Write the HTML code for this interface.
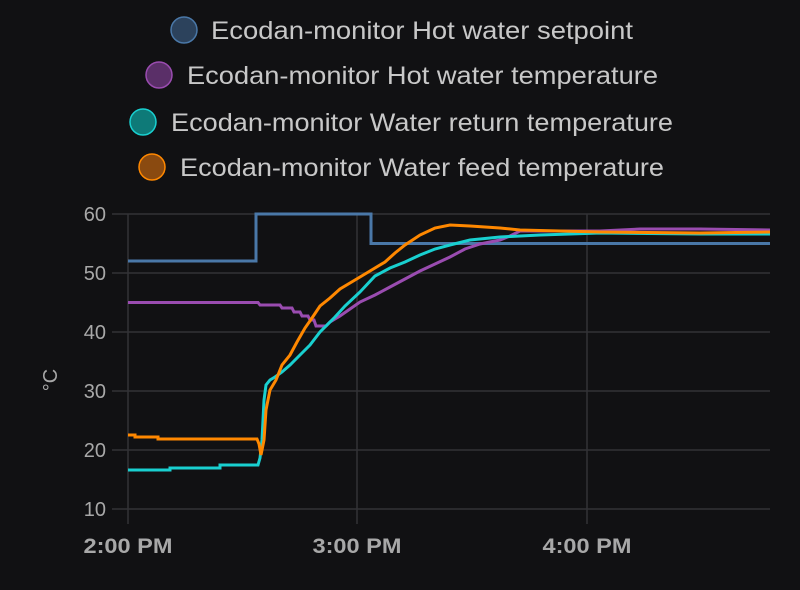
<!DOCTYPE html>
<html><head><style>
html,body{margin:0;padding:0;background:#111113;width:800px;height:590px;overflow:hidden}
</style></head><body>
<svg width="800" height="590" xmlns="http://www.w3.org/2000/svg" font-family="Liberation Sans, sans-serif">
<rect width="800" height="590" fill="#111113"/>
<g font-size="25" fill="#c8c8c8">
<circle cx="184" cy="30" r="13" fill="#2c425c" stroke="#4a78a8" stroke-width="1.5"/>
<text x="211" y="39" textLength="422" lengthAdjust="spacingAndGlyphs">Ecodan-monitor Hot water setpoint</text>
<circle cx="159" cy="75" r="13" fill="#5a2f68" stroke="#9a4cb0" stroke-width="1.5"/>
<text x="187" y="84" textLength="471" lengthAdjust="spacingAndGlyphs">Ecodan-monitor Hot water temperature</text>
<circle cx="143" cy="122" r="13" fill="#0e7a78" stroke="#19d0d0" stroke-width="1.5"/>
<text x="171" y="131" textLength="502" lengthAdjust="spacingAndGlyphs">Ecodan-monitor Water return temperature</text>
<circle cx="152" cy="167" r="13" fill="#8a4a10" stroke="#ff8800" stroke-width="1.5"/>
<text x="180" y="176" textLength="484" lengthAdjust="spacingAndGlyphs">Ecodan-monitor Water feed temperature</text>
</g>
<g stroke="#333336" stroke-width="1.5">
<line x1="112" y1="214" x2="770" y2="214"/><line x1="112" y1="273" x2="770" y2="273"/>
<line x1="112" y1="332" x2="770" y2="332"/><line x1="112" y1="391" x2="770" y2="391"/>
<line x1="112" y1="450" x2="770" y2="450"/><line x1="112" y1="509" x2="770" y2="509"/>
<line x1="128" y1="214" x2="128" y2="524"/><line x1="357" y1="214" x2="357" y2="524"/><line x1="587" y1="214" x2="587" y2="524"/>
</g>
<g font-size="20" fill="#a8a8a8" text-anchor="end">
<text x="106" y="221">60</text><text x="106" y="280">50</text><text x="106" y="339">40</text>
<text x="106" y="398">30</text><text x="106" y="457">20</text><text x="106" y="516">10</text>
</g>
<text transform="translate(57,380) rotate(-90)" font-size="20" fill="#a8a8a8" text-anchor="middle">°C</text>
<g font-size="21" fill="#a8a8a8" font-weight="bold" text-anchor="middle">
<text x="128" y="553" textLength="89" lengthAdjust="spacingAndGlyphs">2:00 PM</text><text x="357" y="553" textLength="89" lengthAdjust="spacingAndGlyphs">3:00 PM</text><text x="587" y="553" textLength="89" lengthAdjust="spacingAndGlyphs">4:00 PM</text>
</g>
<g fill="none" stroke-width="3" stroke-linejoin="miter">
<polyline stroke="#4a78a8" points="128,261 256,261 256,214 371,214 371,243.5 770,243.5"/>
<polyline stroke="#9a4cb0" points="128,302.5 258,302.5 260,305 280,305 282,308 292,308 294,312 300,312 302,316 308,316 310,320 314,320 316,326 326,326 330,322 340,316 350,309 360,302 375,295 390,287 405,279 420,271 435,264 450,257 465,249 480,244 500,240 510,236 520,231 600,231 640,229 700,229 770,230"/>
<polyline stroke="#19d0d0" points="128,470 170,470 170,468 220,468 220,465 258,465 260,458 262,440 264,400 266,385 270,380 275,377 282,372 290,365 300,355 310,345 320,332 335,317 345,306 360,292 375,276 390,268 405,262 420,255 435,249 450,245 470,240 500,237 540,235 600,233 700,234 770,234"/>
<polyline stroke="#ff8800" points="128,435 135,435 135,437 158,437 158,439 257,439 259,444 261,455 264,440 266,410 270,390 276,380 282,365 290,355 297,342 305,328 312,318 320,306 330,298 340,289 355,280 370,271 385,262 395,253 405,245 420,235 435,228 450,225 470,226 500,228 520,230 600,232 700,233 770,232"/>
</g>
</svg>
</body></html>
